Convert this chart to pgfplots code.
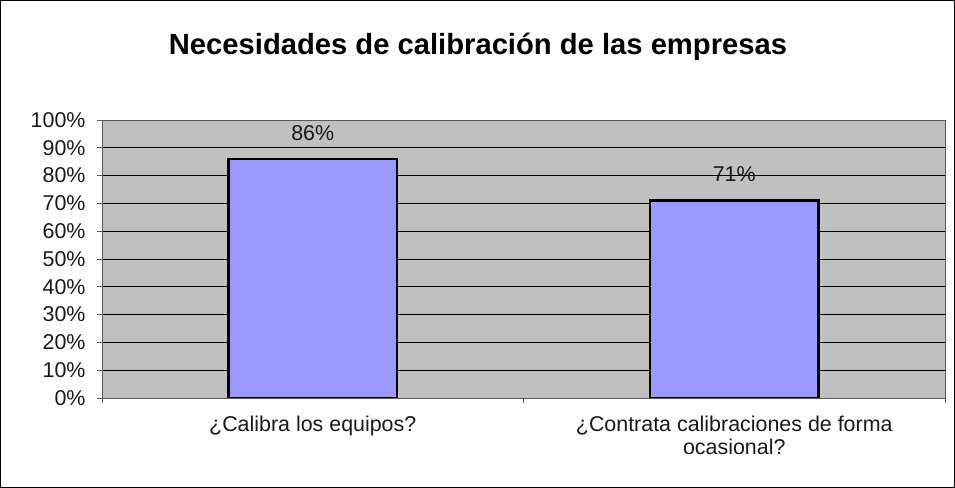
\documentclass[border=0pt]{standalone}
\usepackage{pgfplots}
\pgfplotsset{compat=1.18}
\usepackage{fontspec}
\setmainfont{Liberation Sans}
\definecolor{plotbg}{HTML}{C0C0C0}
\definecolor{barblue}{HTML}{9999FF}

\begin{document}
\begin{tikzpicture}
\useasboundingbox (0bp,0bp) rectangle (955bp,488bp);
\draw[line width=1bp, black] (0.5bp,0.5bp) rectangle (954.5bp,487.5bp);
\node[font=\bfseries\fontsize{29.3}{34}\selectfont] at (478bp,441bp) {Necesidades de calibración de las empresas};
\begin{axis}[
  at={(102bp,90bp)}, anchor=south west,
  scale only axis, width=843bp, height=278bp,
  ybar, bar width=0.4,
  xmin=-0.5, xmax=1.5, ymin=0, ymax=100,
  axis background/.style={fill=plotbg},
  axis line style={draw=black!65, line width=0.8bp},
  ytick={0,10,...,100},
  yticklabel={\pgfmathprintnumber{\tick}\%},
  /pgf/number format/assume math mode=true,
  ymajorgrids, major grid style={draw=black, line width=0.6bp},
  xtick={-0.5,0.5,1.5}, xticklabels={},
  extra x ticks={0,1},
  extra x tick labels={{¿Calibra los equipos?},{¿Contrata calibraciones de forma\\ocasional?}},
  extra x tick style={major tick length=0pt, grid=none},
  tick align=outside, major tick length=5bp,
  xtick pos=bottom, ytick pos=left,
  tick style={draw=black!65, line width=0.8bp},
  every tick label/.append style={font=\fontsize{21.5}{23.5}\selectfont, text=black!90},
  y tick label style={xshift=-8bp},
  x tick label style={align=center, yshift=-14bp},
  nodes near coords={\pgfmathprintnumber{\pgfplotspointmeta}\%},
  every node near coord/.append style={font=\fontsize{21.5}{23.5}\selectfont, yshift=14bp, black!90},
]
\addplot[fill=barblue, draw=black, line width=2.4bp] coordinates {(0,86) (1,71)};
\end{axis}
\end{tikzpicture}
\end{document}
